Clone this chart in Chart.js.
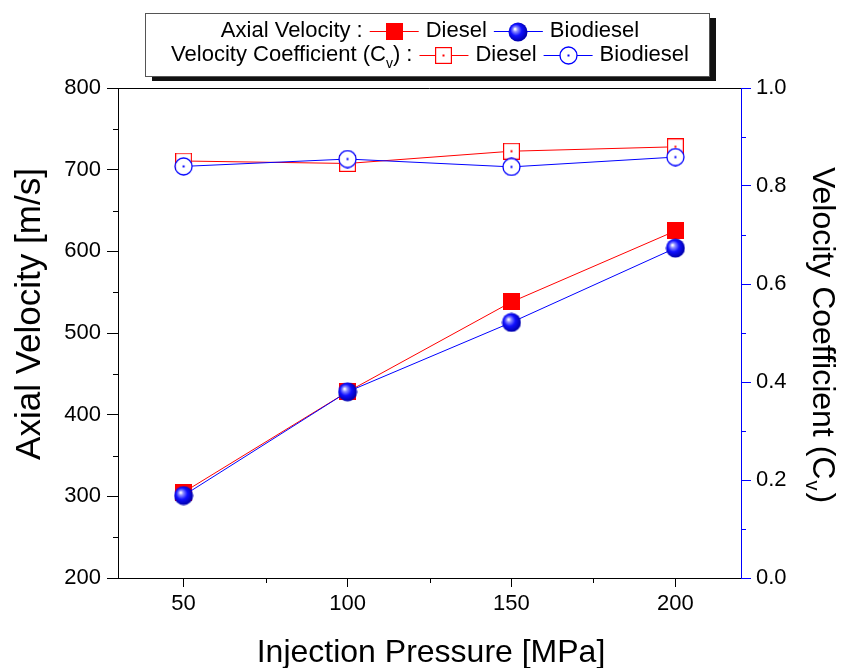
<!DOCTYPE html>
<html><head><meta charset="utf-8">
<script src="https://cdn.jsdelivr.net/npm/chart.js@4"></script>
<style>html,body{margin:0;padding:0;background:#fff}#wrap{width:844px;height:668px;position:relative}</style>
</head><body><div id="wrap"><canvas id="c" width="844" height="668"></canvas></div>
<script>
// ---- data ----
const pressures = [50, 100, 150, 200];
const axialDiesel = [305, 428, 538, 625];
const axialBiodiesel = [301, 428, 513, 604];
const cvDiesel = [0.851, 0.846, 0.871, 0.880];
const cvBiodiesel = [0.840, 0.855, 0.839, 0.859];
const xTicks = [50, 100, 150, 200];
const xMinorTicks = [75, 125, 175];
const leftTicks = [200, 300, 400, 500, 600, 700, 800];
const leftMinorTicks = [250, 350, 450, 550, 650, 750];
const rightTicks = [0, 0.2, 0.4, 0.6, 0.8, 1.0];
const rightMinorTicks = [0.1, 0.3, 0.5, 0.7, 0.9];

const RED = '#ff0000', BLUE = '#0000ff';
const FONT = '"Liberation Sans", Arial, sans-serif';

// ---- marker canvases ----
function mk(w, h, fn) { const c = document.createElement('canvas'); c.width = w; c.height = h; fn(c.getContext('2d')); return c; }
const filledSquare = mk(17, 17, g => { g.fillStyle = RED; g.fillRect(0, 0, 17, 17); });
const sphere = mk(20, 20, g => {
  const gr = g.createRadialGradient(7, 7, 0.5, 9, 9, 10);
  gr.addColorStop(0, '#ffffff'); gr.addColorStop(0.2, '#8c8cff'); gr.addColorStop(0.55, '#1010ff'); gr.addColorStop(1, '#0000b0');
  g.fillStyle = gr; g.beginPath(); g.arc(10, 10, 9.5, 0, Math.PI * 2); g.fill();
});
const hollowSquare = mk(17, 17, g => {
  g.fillStyle = '#fff'; g.fillRect(0, 0, 17, 17);
  g.strokeStyle = RED; g.lineWidth = 1.2; g.strokeRect(0.6, 0.6, 15.8, 15.8);
  g.fillStyle = RED; g.fillRect(7.5, 7.5, 2, 2);
});
const hollowCircle = mk(19, 19, g => {
  g.fillStyle = '#fff'; g.beginPath(); g.arc(9.5, 9.5, 8.5, 0, Math.PI * 2); g.fill();
  g.strokeStyle = BLUE; g.lineWidth = 1.3; g.stroke();
  g.fillStyle = BLUE; g.fillRect(8.5, 8.5, 2, 2);
});

const pts = arr => pressures.map((p, i) => ({ x: p, y: arr[i] }));

const decor = {
  id: 'decor',
  afterDraw(chart) {
    const g = chart.ctx, a = chart.chartArea;
    const sx = chart.scales.x, sy = chart.scales.y, sr = chart.scales.y1;
    g.save();
    g.lineWidth = 1;
    // top frame
    g.strokeStyle = '#000';
    g.beginPath(); g.moveTo(a.left, a.top + 0.5); g.lineTo(a.right, a.top + 0.5); g.stroke();
    // minor ticks
    g.beginPath();
    leftMinorTicks.forEach(v => { const y = Math.round(sy.getPixelForValue(v)) + 0.5; g.moveTo(a.left - 5, y); g.lineTo(a.left, y); });
    xMinorTicks.forEach(v => { const x = Math.round(sx.getPixelForValue(v)) + 0.5; g.moveTo(x, a.bottom); g.lineTo(x, a.bottom + 5); });
    g.stroke();
    g.strokeStyle = BLUE;
    g.beginPath();
    rightMinorTicks.forEach(v => { const y = Math.round(sr.getPixelForValue(v)) + 0.5; g.moveTo(a.right, y); g.lineTo(a.right + 5, y); });
    g.stroke();

    // axis titles
    g.fillStyle = '#000';
    g.font = '32px ' + FONT;
    g.textAlign = 'center'; g.textBaseline = 'middle';
    g.fillText('Injection Pressure [MPa]', 431, 653);
    g.save(); g.translate(30, 314); g.rotate(-Math.PI / 2);
    g.font = '35px ' + FONT;
    g.fillText('Axial Velocity [m/s]', 0, 0); g.restore();
    // right title with subscript
    g.save(); g.translate(824, 335); g.rotate(Math.PI / 2);
    const t1 = 'Velocity Coefficient (C', t2 = 'v', t3 = ')';
    g.font = '32px ' + FONT; const w1 = g.measureText(t1).width, w3 = g.measureText(t3).width;
    g.font = '20px ' + FONT; const w2 = g.measureText(t2).width;
    const tot = w1 + w2 + w3 + 3; let x0 = -tot / 2;
    g.textAlign = 'left'; g.textBaseline = 'alphabetic';
    g.font = '32px ' + FONT; g.fillText(t1, x0, 11);
    g.font = '20px ' + FONT; g.fillText(t2, x0 + w1 + 1, 18);
    g.font = '32px ' + FONT; g.fillText(t3, x0 + w1 + w2 + 3, 11);
    g.restore();

    // legend box
    const bx = 145, by = 13, bw = 564, bh = 63;
    g.fillStyle = '#111'; g.fillRect(bx + 7, by + 5, bw, bh);
    g.fillStyle = '#fff'; g.fillRect(bx, by, bw, bh);
    g.strokeStyle = '#555'; g.lineWidth = 1; g.strokeRect(bx + 0.5, by + 0.5, bw, bh);
    const segW = 49, LF = '22px ' + FONT, SF = '14px ' + FONT;
    function row(y, parts) {
      g.textBaseline = 'middle'; g.textAlign = 'left';
      let total = 0; const ws = [];
      parts.forEach(p => {
        let w;
        if (p.marker) w = segW + 14;
        else { g.font = LF; w = g.measureText(p.text).width; if (p.sub) { g.font = SF; w += g.measureText(p.sub).width; g.font = LF; w += g.measureText(p.after).width; } }
        ws.push(w); total += w;
      });
      let x = 430 - total / 2;
      parts.forEach((p, i) => {
        if (p.marker) {
          const sx0 = x + 7, sx1 = sx0 + segW;
          g.strokeStyle = p.color; g.lineWidth = 1;
          g.beginPath(); g.moveTo(sx0, Math.round(y) + 0.5); g.lineTo(sx1, Math.round(y) + 0.5); g.stroke();
          const m = p.marker; g.drawImage(m, Math.round((sx0 + sx1) / 2 - m.width / 2), Math.round(y - m.height / 2 + 0.5));
        } else {
          g.fillStyle = '#000'; g.font = LF;
          g.fillText(p.text, x, y);
          if (p.sub) {
            let xx = x + g.measureText(p.text).width;
            g.font = SF; g.fillText(p.sub, xx, y + 9);
            xx += g.measureText(p.sub).width;
            g.font = LF; g.fillText(p.after, xx, y);
          }
        }
        x += ws[i];
      });
    }
    row(31, [{ text: 'Axial Velocity :' }, { marker: filledSquare, color: RED }, { text: 'Diesel' }, { marker: sphere, color: BLUE }, { text: 'Biodiesel' }]);
    row(55, [{ text: 'Velocity Coefficient (C', sub: 'v', after: ') :' }, { marker: hollowSquare, color: RED }, { text: 'Diesel' }, { marker: hollowCircle, color: BLUE }, { text: 'Biodiesel' }]);
    g.restore();
  }
};

new Chart(document.getElementById('c'), {
  type: 'line',
  data: {
    datasets: [
      { label: 'Axial Velocity : Diesel', data: pts(axialDiesel), yAxisID: 'y', borderColor: RED, backgroundColor: RED, borderWidth: 1, pointStyle: filledSquare, order: 3 },
      { label: 'Axial Velocity : Biodiesel', data: pts(axialBiodiesel), yAxisID: 'y', borderColor: BLUE, backgroundColor: BLUE, borderWidth: 1, pointStyle: sphere, order: 2 },
      { label: 'Velocity Coefficient : Diesel', data: pts(cvDiesel), yAxisID: 'y1', borderColor: RED, backgroundColor: '#fff', borderWidth: 1, pointStyle: hollowSquare, order: 1 },
      { label: 'Velocity Coefficient : Biodiesel', data: pts(cvBiodiesel), yAxisID: 'y1', borderColor: BLUE, backgroundColor: '#fff', borderWidth: 1, pointStyle: hollowCircle, order: 0 }
    ]
  },
  options: {
    responsive: false, animation: false,
    layout: { padding: { top: 88, left: 0, right: 0, bottom: 0 } },
    plugins: { legend: { display: false }, tooltip: { enabled: false } },
    elements: { line: { tension: 0 } },
    scales: {
      x: {
        type: 'linear', min: 30, max: 220,
        afterBuildTicks: s => { s.ticks = xTicks.map(v => ({ value: v })); },
        afterFit: s => { s.height = 90; },
        grid: { drawOnChartArea: false, tickLength: 9, color: '#000', lineWidth: 1 },
        border: { color: '#000', width: 1 },
        ticks: { color: '#000', font: { family: FONT, size: 22 }, padding: 4 }
      },
      y: {
        type: 'linear', position: 'left', min: 200, max: 800,
        afterBuildTicks: s => { s.ticks = leftTicks.map(v => ({ value: v })); },
        afterFit: s => { s.width = 118; },
        grid: { drawOnChartArea: false, tickLength: 11, color: '#000', lineWidth: 1 },
        border: { color: '#000', width: 1 },
        ticks: { color: '#000', font: { family: FONT, size: 22 }, padding: 6 }
      },
      y1: {
        type: 'linear', position: 'right', min: 0, max: 1,
        afterBuildTicks: s => { s.ticks = rightTicks.map(v => ({ value: v })); },
        afterFit: s => { s.width = 103; },
        grid: { drawOnChartArea: false, tickLength: 10, color: BLUE, lineWidth: 1 },
        border: { color: BLUE, width: 1 },
        ticks: { color: '#000', font: { family: FONT, size: 22 }, padding: 5, callback: v => Number(v).toFixed(1) }
      }
    }
  },
  plugins: [decor]
});
</script></body></html>
